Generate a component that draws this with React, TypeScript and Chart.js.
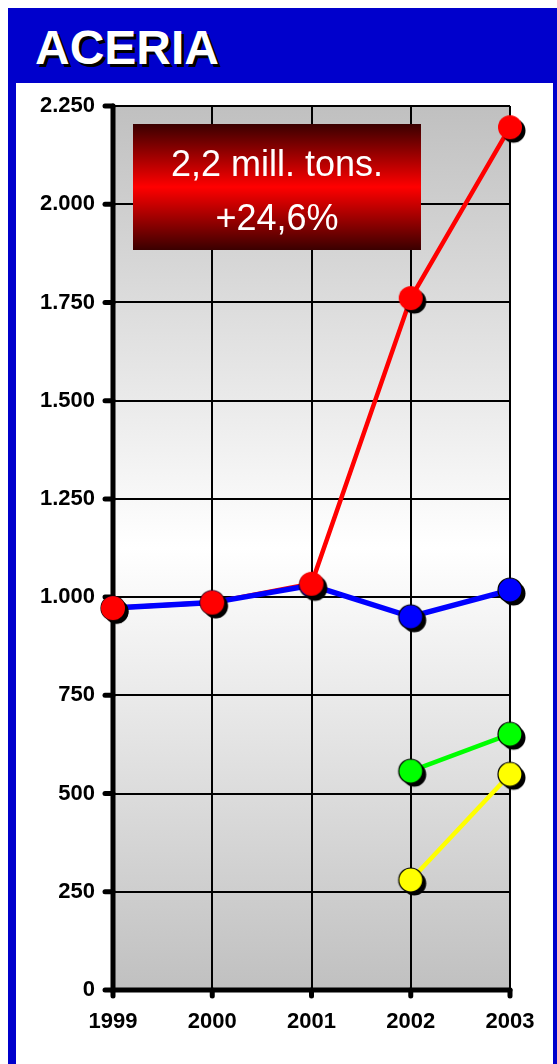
import React, { useEffect, useRef } from "react";
import { Chart, registerables } from "chart.js";

Chart.register(...registerables);

const categories = ["1999", "2000", "2001", "2002", "2003"];
const redValues = [972, 986, 1034, 1761, 2196];
const blueValues = [972, 986, 1030, 950, 1018];
const greenValues = [null, null, null, 557, 651];
const yellowValues = [null, null, null, 280, 549];
const yMin = 0;
const yMax = 2250;
const yStep = 250;
const titleText = "ACERIA";
const boxLines = ["2,2 mill. tons.", "+24,6%"];

const FONT = '"Liberation Sans", Arial, sans-serif';

function makeMarker(color: string, outline: boolean): HTMLCanvasElement {
  const c = document.createElement("canvas");
  c.width = 38;
  c.height = 38;
  const ctx = c.getContext("2d")!;
  const r = 12;
  ctx.fillStyle = "#000";
  ctx.beginPath();
  ctx.arc(19 + 3.5, 19 + 3.5, r, 0, Math.PI * 2);
  ctx.fill();
  ctx.fillStyle = color;
  ctx.beginPath();
  ctx.arc(19, 19, r, 0, Math.PI * 2);
  ctx.fill();
  if (outline) {
    ctx.lineWidth = 1.2;
    ctx.strokeStyle = "#000";
    ctx.stroke();
  }
  return c;
}

function fmt(v: number): string {
  return String(Math.round(v)).replace(/\B(?=(\d{3})+(?!\d))/g, ".");
}

const decorPlugin = {
  id: "decor",
  beforeDraw(chart: any) {
    const { ctx, chartArea } = chart;
    const { left, right, top, bottom } = chartArea;
    ctx.save();
    const g = ctx.createLinearGradient(0, top, 0, bottom);
    g.addColorStop(0, "#c0c0c0");
    g.addColorStop(0.5, "#ffffff");
    g.addColorStop(1, "#c0c0c0");
    ctx.fillStyle = g;
    ctx.fillRect(left, top, right - left, bottom - top);
    ctx.restore();
  },
  beforeDatasetsDraw(chart: any) {
    const { ctx, chartArea, scales } = chart;
    const { left, right, top, bottom } = chartArea;
    ctx.save();
    ctx.strokeStyle = "#000";
    ctx.lineCap = "round";
    ctx.lineWidth = 5;
    ctx.beginPath();
    ctx.moveTo(left, top);
    ctx.lineTo(left, bottom);
    ctx.lineTo(right, bottom);
    ctx.stroke();
    const ys = scales.y;
    ys.ticks.forEach((t: any) => {
      const py = ys.getPixelForValue(t.value);
      ctx.beginPath();
      ctx.moveTo(left - 8, py);
      ctx.lineTo(left, py);
      ctx.stroke();
    });
    const xs = scales.x;
    categories.forEach((_c, i) => {
      const px = xs.getPixelForValue(i);
      ctx.beginPath();
      ctx.moveTo(px, bottom);
      ctx.lineTo(px, bottom + 6);
      ctx.stroke();
    });
    const bx = 133, by = 124, bw = 288, bh = 126;
    const g = ctx.createLinearGradient(0, by, 0, by + bh);
    g.addColorStop(0, "#3a0000");
    g.addColorStop(0.5, "#ff0000");
    g.addColorStop(1, "#3a0000");
    ctx.fillStyle = g;
    ctx.fillRect(bx, by, bw, bh);
    ctx.fillStyle = "#ffffff";
    ctx.font = `36px ${FONT}`;
    ctx.textAlign = "center";
    ctx.textBaseline = "alphabetic";
    ctx.fillText(boxLines[0], bx + bw / 2, 176);
    ctx.fillText(boxLines[1], bx + bw / 2, 230);
    ctx.restore();
  },
};

export default function App() {
  const ref = useRef<HTMLCanvasElement | null>(null);

  useEffect(() => {
    if (!ref.current) return;
    const mRed = makeMarker("#ff0000", false);
    const mBlue = makeMarker("#0000ff", true);
    const mGreen = makeMarker("#00ff00", true);
    const mYellow = makeMarker("#ffff00", true);
    const chart = new Chart(ref.current, {
      type: "line",
      data: {
        labels: categories,
        datasets: [
          {
            label: "red-line",
            data: redValues,
            borderColor: "#ff0000",
            borderWidth: 4.5,
            pointRadius: 0,
            order: 10,
            clip: false,
          } as any,
          {
            label: "blue",
            data: blueValues,
            borderColor: "#0000ff",
            borderWidth: 5.5,
            pointStyle: mBlue,
            pointRadius: 12,
            order: 5,
            clip: false,
          },
          {
            label: "red",
            data: redValues,
            showLine: false,
            pointStyle: mRed,
            pointRadius: 12,
            order: 4,
            clip: false,
          },
          {
            label: "green",
            data: greenValues,
            borderColor: "#00ff00",
            borderWidth: 4.5,
            pointStyle: mGreen,
            pointRadius: 12,
            order: 3,
            clip: false,
          },
          {
            label: "yellow",
            data: yellowValues,
            borderColor: "#ffff00",
            borderWidth: 4.5,
            pointStyle: mYellow,
            pointRadius: 12,
            order: 2,
            clip: false,
          },
        ],
      },
      options: {
        animation: false,
        responsive: false,
        devicePixelRatio: 1,
        events: [],
        layout: { padding: { left: 0, right: 47, top: 106, bottom: 0 } },
        plugins: {
          legend: { display: false },
          tooltip: { enabled: false },
          title: { display: false },
        },
        scales: {
          x: {
            type: "category",
            offset: false,
            grid: { color: "#000", lineWidth: 2, drawTicks: false },
            border: { display: false },
            ticks: {
              color: "#000",
              font: { family: FONT, size: 22, weight: "bold" },
              padding: 19,
              maxRotation: 0,
              autoSkip: false,
            },
            afterFit: (s: any) => {
              s.height = 74;
            },
          },
          y: {
            min: yMin,
            max: yMax,
            grid: { color: "#000", lineWidth: 2, drawTicks: false },
            border: { display: false },
            ticks: {
              stepSize: yStep,
              color: "#000",
              font: { family: FONT, size: 22, weight: "bold" },
              padding: 18,
              callback: (v: any) => fmt(Number(v)),
            },
            afterFit: (s: any) => {
              s.width = 113;
            },
          },
        },
      },
      plugins: [decorPlugin],
    });
    return () => chart.destroy();
  }, []);

  return (
    <div
      style={{
        position: "fixed",
        left: 0,
        top: 0,
        width: 557,
        height: 1064,
        overflow: "hidden",
        background: "#ffffff",
      }}
    >
      <div
        style={{
          position: "absolute",
          left: 8,
          top: 8,
          width: 560,
          height: 1100,
          background: "#0000cc",
        }}
      />
      <div
        style={{
          position: "absolute",
          left: 16,
          top: 83,
          width: 537,
          height: 1000,
          background: "#ffffff",
        }}
      />
      <div
        style={{
          position: "absolute",
          left: 35,
          top: 24,
          fontFamily: FONT,
          fontWeight: "bold",
          fontSize: 48,
          lineHeight: "47px",
          color: "#ffffff",
          textShadow: "3px 3px 0 #000",
          whiteSpace: "nowrap",
        }}
      >
        {titleText}
      </div>
      <canvas
        ref={ref}
        width={557}
        height={1064}
        style={{ position: "absolute", left: 0, top: 0, width: 557, height: 1064, display: "block" }}
      />
    </div>
  );
}
